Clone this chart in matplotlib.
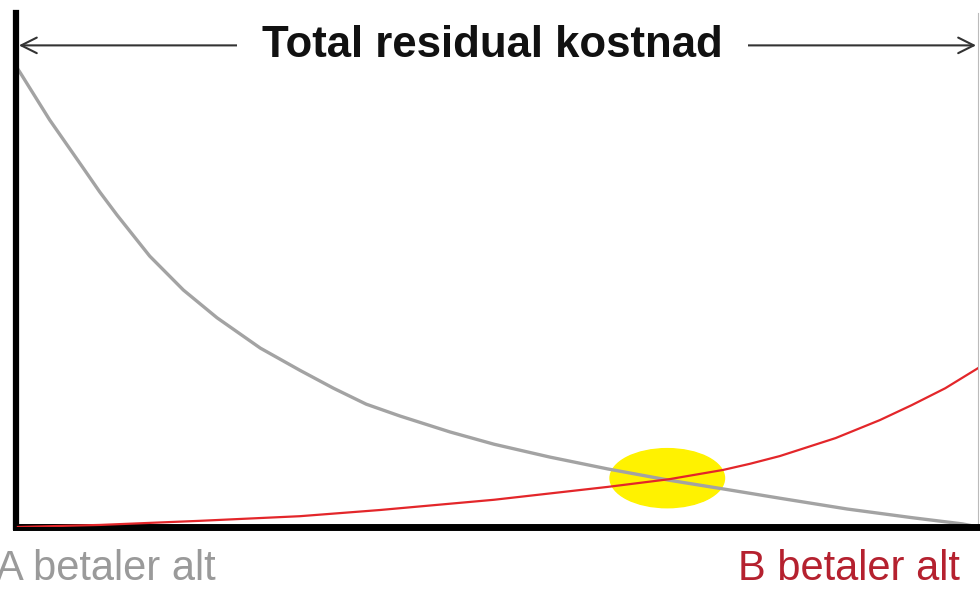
import matplotlib.pyplot as plt
from matplotlib.patches import Ellipse

plt.rcParams['font.family'] = ['Liberation Sans', 'DejaVu Sans']

# Curves (arbitrary units, 0-100 on both axes)
gray_x = [0.0, 0.4, 3.5, 7.0, 8.7, 10.5, 13.9, 17.4, 20.9, 25.4, 29.5, 33.0, 36.4,
          39.9, 45.1, 49.7, 55.5, 61.5, 67.9, 74.2, 79.4, 86.4, 93.2, 98.4, 100.0]
gray_y = [89.6, 88.5, 79.2, 69.8, 65.2, 60.7, 52.7, 46.1, 40.7, 34.8, 30.5, 27.0, 23.9,
          21.6, 18.5, 16.1, 13.6, 11.3, 9.1, 7.2, 5.6, 3.5, 1.8, 0.6, 0.0]

red_x = [0.2, 8.7, 19.1, 29.5, 37.8, 49.7, 61.5, 67.9, 73.5, 76.3, 79.4, 85.2,
         89.8, 93.1, 96.6, 100.0]
red_y = [0.0, 0.4, 1.2, 2.1, 3.3, 5.3, 7.8, 9.3, 11.1, 12.3, 13.8, 17.3,
         20.8, 23.7, 27.0, 30.9]

# Highlight of the crossing point
cross_x, cross_y = 67.7, 9.5

title = 'Total residual kostnad'
left_label = 'A betaler alt'
right_label = 'B betaler alt'

fig = plt.figure(figsize=(9.8, 5.89), dpi=100)
ax = fig.add_axes([16 / 980, 1 - 527 / 589, 962 / 980, 514 / 589])
ax.set_xlim(0, 100)
ax.set_ylim(0, 100)

ax.add_patch(Ellipse((cross_x, cross_y), 11.9, 11.5, color='#FFF200', zorder=1))
ax.plot(gray_x, gray_y, color='#A3A3A3', lw=2.4, zorder=2, solid_capstyle='butt')
ax.plot(red_x, red_y, color='#E3262A', lw=1.6, zorder=3)

ax.set_xticks([])
ax.set_yticks([])
ax.spines['left'].set_linewidth(4.5)
ax.spines['bottom'].set_linewidth(5)
ax.spines['top'].set_visible(False)
ax.spines['right'].set_color('#BBBBBB')
ax.spines['right'].set_linewidth(0.8)
for s in ['left', 'bottom']:
    ax.spines[s].set_color('black')

# Double arrow with title across the top
ax.annotate('', xy=(0.3, 93.7), xytext=(99.8, 93.7), xycoords='data',
            arrowprops=dict(arrowstyle='<->', color='#333333', lw=1.5,
                            mutation_scale=28, shrinkA=0, shrinkB=0),
            annotation_clip=False)
ax.text(49.5, 93.7, title, ha='center', va='center', fontsize=31.5,
        fontweight='bold', color='#111111',
        bbox=dict(facecolor='white', edgecolor='none', pad=18))

# Bottom labels (the left one runs off the edge, as in the original)
fig.text(216 / 980, 1 - 569 / 589, left_label, ha='right', va='center',
         fontsize=30, color='#9A9A9A')
fig.text(960 / 980, 1 - 569 / 589, right_label, ha='right', va='center',
         fontsize=30, color='#B5212F')

fig.savefig('out.png', dpi=100)
